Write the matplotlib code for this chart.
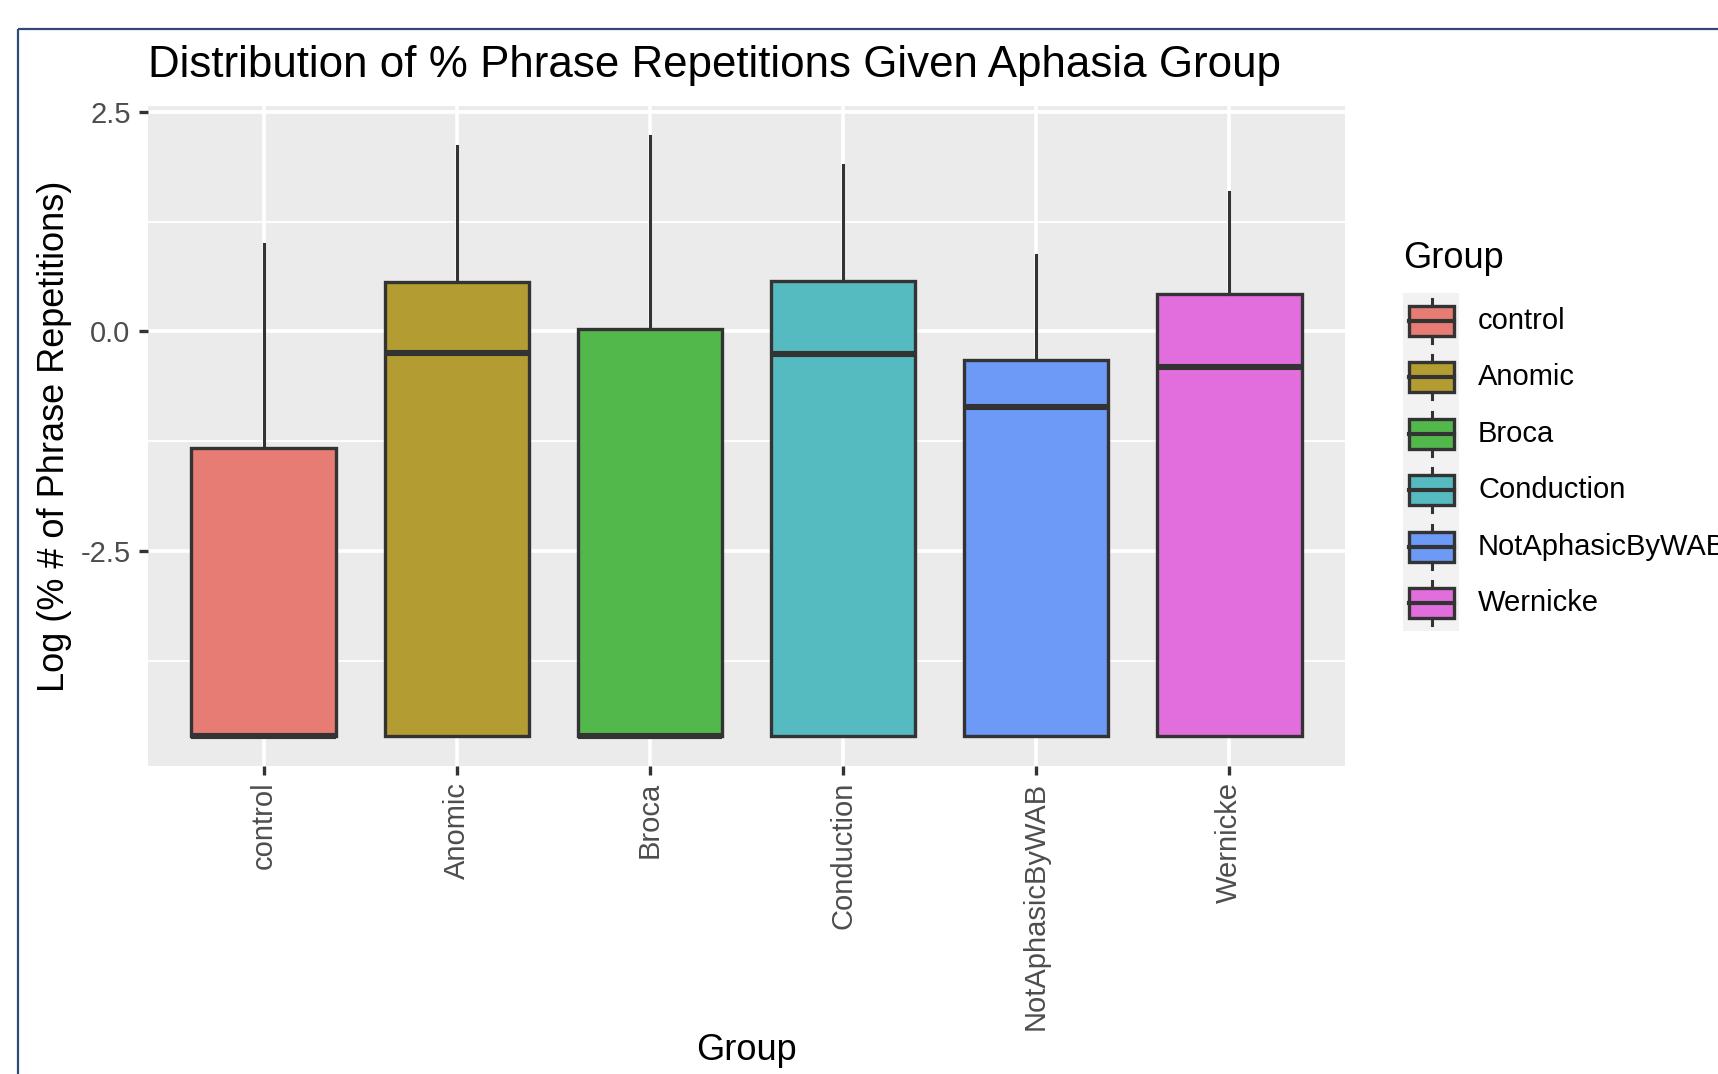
import matplotlib
matplotlib.use("Agg")
import matplotlib.pyplot as plt
from matplotlib.patches import Rectangle
from matplotlib.lines import Line2D

plt.rcParams["font.family"] = ["Liberation Sans", "DejaVu Sans"]
plt.rcParams["axes.unicode_minus"] = False

# Box summaries of log(% phrase repetitions) per aphasia group
groups = ["control", "Anomic", "Broca", "Conduction", "NotAphasicByWAB", "Wernicke"]
whisker_low = [-4.605, -4.605, -4.605, -4.605, -4.605, -4.605]
q1 = [-4.605, -4.605, -4.605, -4.605, -4.605, -4.605]
medians = [-4.605, -0.25, -4.605, -0.26, -0.86, -0.41]
q3 = [-1.325, 0.56, 0.025, 0.575, -0.325, 0.425]
whisker_high = [0.99, 2.11, 2.225, 1.9, 0.875, 1.59]
colors = ["#E67C73", "#B39D32", "#53B84B", "#56BBC1", "#6C9AF6", "#E26EDE"]

y_major = [-2.5, 0.0, 2.5]
y_major_labels = ["-2.5", "0.0", "2.5"]
y_minor = [-3.75, -1.25, 1.25]

W, H = 1718, 1074
fig = plt.figure(figsize=(W / 100, H / 100), dpi=100)
fig.patch.set_facecolor("white")

left, right, top, bottom = 148, 1345, 106, 766
ax = fig.add_axes([left / W, 1 - bottom / H, (right - left) / W, (bottom - top) / H])
ax.set_facecolor("#EBEBEB")
ax.set_axisbelow(True)

positions = list(range(1, len(groups) + 1))
stats = [
    dict(med=m, q1=a, q3=b, whislo=lo, whishi=hi, label=g)
    for g, m, a, b, lo, hi in zip(groups, medians, q1, q3, whisker_low, whisker_high)
]
edge = "#333333"
bp = ax.bxp(
    stats,
    positions=positions,
    widths=0.75,
    patch_artist=True,
    showfliers=False,
    showcaps=False,
    boxprops=dict(linewidth=2.4, edgecolor=edge),
    medianprops=dict(color=edge, linewidth=4.4, solid_capstyle="butt"),
    whiskerprops=dict(color=edge, linewidth=2.2),
)
for patch, c in zip(bp["boxes"], colors):
    patch.set_facecolor(c)

# y range padded by 5% of the data span, x range like a discrete scale
lo_all, hi_all = min(whisker_low), max(whisker_high)
span = hi_all - lo_all
ax.set_ylim(lo_all - 0.05 * span, hi_all + 0.05 * span)
ax.set_xlim(0.4, len(groups) + 0.6)

ax.set_yticks(y_major)
ax.set_yticklabels(y_major_labels)
ax.set_yticks(y_minor, minor=True)
ax.set_xticks(positions)
ax.set_xticklabels(groups, rotation=90)

ax.grid(which="major", color="white", linewidth=2.66)
ax.grid(which="minor", axis="y", color="white", linewidth=1.33)
for s in ax.spines.values():
    s.set_visible(False)
ax.tick_params(which="major", length=6.8, width=2.4, color=edge,
               labelcolor="#4D4D4D", labelsize=21, pad=5.8)
ax.tick_params(axis="x", which="major", pad=4.5)
ax.tick_params(which="minor", length=0)

fig.text(left / W, 1 - 66 / H, "Distribution of % Phrase Repetitions Given Aphasia Group",
         fontsize=31.6, ha="left", va="center", color="black")
fig.text(55 / W, 1 - 436 / H, "Log (% # of Phrase Repetitions)", fontsize=26,
         rotation=90, ha="center", va="center", color="black")
fig.text((left + right) / 2 / W, 1 - 1050 / H, "Group", fontsize=26,
         ha="center", va="center", color="black")

# Overlay in pixel units for the legend and the outer frame
lax = fig.add_axes([0, 0, 1, 1])
lax.set_xlim(0, W)
lax.set_ylim(H, 0)
lax.axis("off")
lax.patch.set_alpha(0)

lax.text(1403, 259, "Group", fontsize=26, ha="left", va="center", color="black")
row0, step = 321, 56.4
lax.add_patch(Rectangle((1403, row0 - 28), 56, step * (len(groups) - 1) + 56,
                        facecolor="#F2F2F2", edgecolor="none"))
kx0, kw, kh = 1409, 45, 30
kxc = kx0 + kw / 2
for i, (g, c) in enumerate(zip(groups, colors)):
    cy = row0 + i * step
    lax.add_patch(Rectangle((kx0, cy - kh / 2), kw, kh, facecolor=c,
                            edgecolor=edge, linewidth=2.4))
    lax.add_line(Line2D([kx0, kx0 + kw], [cy, cy], color=edge, linewidth=3.0))
    lax.add_line(Line2D([kxc, kxc], [cy - kh / 2 - 7, cy - kh / 2], color=edge, linewidth=2.2))
    lax.add_line(Line2D([kxc, kxc], [cy + kh / 2, cy + kh / 2 + 7], color=edge, linewidth=2.2))
    lax.text(1478, cy, g, fontsize=21, ha="left", va="center", color="black")

lax.add_patch(Rectangle((18, 29), 3000, 3000, fill=False, edgecolor="#2F4B74", linewidth=1.6))

fig.savefig("out.png", dpi=100)
